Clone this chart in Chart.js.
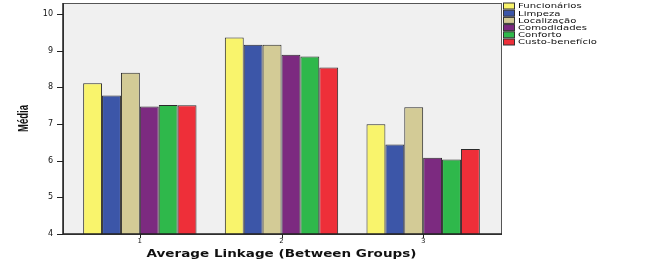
<!DOCTYPE html>
<html>
<head>
<meta charset="utf-8">
<script src="https://cdn.jsdelivr.net/npm/chart.js@4/dist/chart.umd.min.js"></script>
<style>
  html, body { margin: 0; padding: 0; background: #fff; }
  #wrap { width: 670px; height: 266px; }
</style>
</head>
<body>
<div id="wrap"><canvas id="grupos"></canvas></div>
<script>
var grupos = ["1", "2", "3"];
var yTicks = [4, 5, 6, 7, 8, 9, 10];
var funcionarios = [8.11, 9.36, 6.99];
var limpeza = [7.78, 9.16, 6.44];
var localizacao = [8.40, 9.16, 7.46];
var comodidades = [7.48, 8.89, 6.08];
var conforto = [7.52, 8.84, 6.03];
var custoBeneficio = [7.51, 8.54, 6.32];
var xTitulo = "Average Linkage (Between Groups)";
var yTitulo = "Média";

var BOX_PAD_L = 6, BOX_PAD_R = 8;

// draws text squeezed/stretched like the original export
function stretchedText(ctx, text, x, y, sx, sy, rot) {
  ctx.save();
  ctx.translate(x, y);
  if (rot) ctx.rotate(rot);
  ctx.scale(sx, sy);
  ctx.fillText(text, 0, 0);
  ctx.restore();
}

var plotBox = {
  id: "plotBox",
  beforeDatasetsDraw: function(chart) {
    var a = chart.chartArea, ctx = chart.ctx;
    var l = a.left - BOX_PAD_L, r = a.right + BOX_PAD_R;
    ctx.save();
    ctx.fillStyle = "#f0f0f0";
    ctx.fillRect(l, a.top, r - l, a.bottom - a.top);
    ctx.strokeStyle = "#555";
    ctx.lineWidth = 1;
    ctx.strokeRect(l + 0.5, a.top + 0.5, r - l - 1, a.bottom - a.top);
    ctx.restore();
  },
  afterDatasetsDraw: function(chart) {
    var a = chart.chartArea, ctx = chart.ctx;
    var l = a.left - BOX_PAD_L, r = a.right + BOX_PAD_R;
    var ys = chart.scales.y, xs = chart.scales.x;
    ctx.save();
    ctx.strokeStyle = "#222";
    ctx.lineWidth = 1.5;
    ctx.beginPath();
    ctx.moveTo(l, a.top);
    ctx.lineTo(l, a.bottom);
    ctx.lineTo(r, a.bottom);
    ctx.stroke();
    ctx.lineWidth = 1;
    ctx.beginPath();
    yTicks.forEach(function(v) {
      var p = Math.round(ys.getPixelForValue(v)) + 0.5;
      ctx.moveTo(l - 6, p);
      ctx.lineTo(l, p);
    });
    grupos.forEach(function(g, i) {
      var p = Math.round(xs.getPixelForValue(i)) + 0.5;
      ctx.moveTo(p, a.bottom);
      ctx.lineTo(p, a.bottom + 4);
    });
    ctx.stroke();

    // axis titles
    ctx.fillStyle = "#111";
    ctx.textAlign = "center";
    ctx.textBaseline = "middle";
    ctx.font = "bold 11px 'DejaVu Sans'";
    stretchedText(ctx, xTitulo, (a.left + a.right) / 2, 254, 1.23, 0.95, 0);
    ctx.font = "bold 14px 'Liberation Sans Narrow', 'Liberation Sans'";
    stretchedText(ctx, yTitulo, 24, (a.top + a.bottom) / 2, 0.68, 1.0, -Math.PI / 2);

    // legend
    ctx.textAlign = "left";
    ctx.font = "8.5px 'DejaVu Sans'";
    chart.data.datasets.forEach(function(ds, i) {
      var y = 6 + i * 7.2;
      ctx.fillStyle = ds.backgroundColor;
      ctx.fillRect(r + 1.5, y - 3, 11, 6);
      ctx.strokeStyle = "#333";
      ctx.strokeRect(r + 1.5, y - 3, 11, 6);
      ctx.fillStyle = "#111";
      stretchedText(ctx, ds.label, r + 16, y + 0.5, 1.19, 0.9, 0);
    });
    ctx.restore();
  }
};

var ctx = document.querySelector("#grupos").getContext("2d");
new Chart(ctx, {
  type: "bar",
  data: {
    labels: grupos,
    datasets: [
      { label: "Funcionários", data: funcionarios, backgroundColor: "#f9f46c" },
      { label: "Limpeza", data: limpeza, backgroundColor: "#3c56a8" },
      { label: "Localização", data: localizacao, backgroundColor: "#d3cb96" },
      { label: "Comodidades", data: comodidades, backgroundColor: "#7c2a80" },
      { label: "Conforto", data: conforto, backgroundColor: "#2fb84b" },
      { label: "Custo-benefício", data: custoBeneficio, backgroundColor: "#ee2f39" }
    ]
  },
  options: {
    responsive: true,
    maintainAspectRatio: false,
    animation: false,
    datasets: {
      bar: {
        categoryPercentage: 0.8,
        barPercentage: 1.0,
        borderColor: "#2a2a2a",
        borderWidth: 1
      }
    },
    layout: {
      padding: { top: 3, right: 176, left: 0, bottom: 0 }
    },
    plugins: {
      legend: { display: false },
      tooltip: { enabled: false }
    },
    scales: {
      x: {
        grid: { display: false, drawTicks: false },
        border: { display: false },
        ticks: {
          padding: 3,
          color: "#111",
          font: { family: "'DejaVu Sans'", size: 7 }
        },
        afterFit: function(scale) { scale.height = 32; }
      },
      y: {
        min: 4,
        max: 10.3,
        afterBuildTicks: function(scale) {
          scale.ticks = yTicks.map(function(v) { return { value: v }; });
        },
        grid: { display: false, drawTicks: false },
        border: { display: false },
        ticks: {
          padding: 16,
          color: "#111",
          font: { family: "'DejaVu Sans'", size: 8 }
        },
        afterFit: function(scale) {
          scale.width = 69;
          scale.paddingTop = 0;
          scale.paddingBottom = 0;
        }
      }
    }
  },
  plugins: [plotBox]
});
</script>
</body>
</html>
